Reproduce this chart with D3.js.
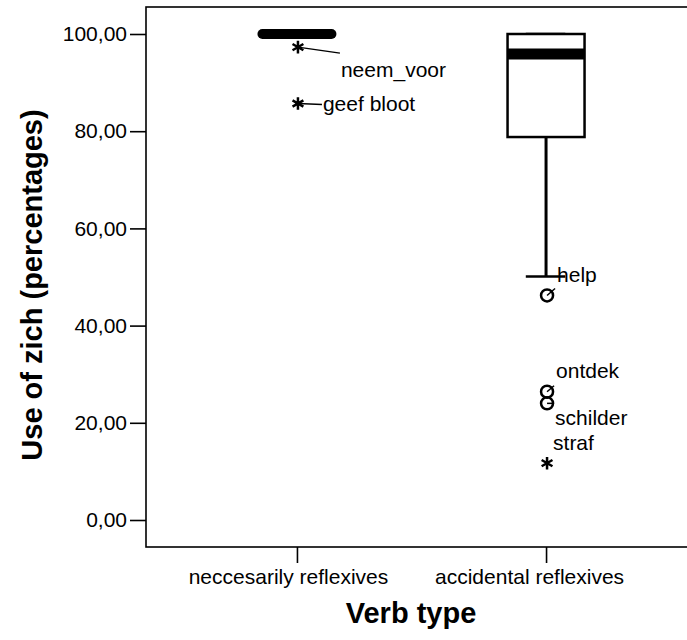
<!DOCTYPE html>
<html>
<head>
<meta charset="utf-8">
<script src="https://cdn.jsdelivr.net/npm/d3@7"></script>
<style>
  body { margin: 0; background: #fff; }
  text { font-family: "Liberation Sans", Arial, sans-serif; fill: #000; }
</style>
</head>
<body>
<script>
// data
var categories = ["neccesarily reflexives", "accidental reflexives"];
var whiskerLow  = [100, 50.1];
var q1          = [100, 78.8];
var median      = [100, 95.9];
var q3          = [100, 100];
var whiskerHigh = [100, 100];

var outNames  = ["neem_voor", "geef bloot", "help", "ontdek", "schilder", "straf"];
var outGroup  = [0, 0, 1, 1, 1, 1];
var outValues = [97.3, 85.7, 46.2, 26.4, 24.0, 11.7];
var outKind   = ["star", "star", "circle", "circle", "circle", "star"];

var yTicks = [0, 20, 40, 60, 80, 100];

var W = 687, H = 640;
var frame = {left: 146, top: 7, bottom: 547};
var small = "21px", big = "29px";

var svg = d3.select("body").append("svg")
    .attr("width", W)
    .attr("height", H);

var y = d3.scaleLinear().domain([0, 100]).range([520, 34]);
var x = d3.scalePoint().domain(categories).range([146, 697]).padding(0.606);

// frame (right side runs off the picture)
svg.append("rect")
    .attr("x", frame.left)
    .attr("y", frame.top)
    .attr("width", 700)
    .attr("height", frame.bottom - frame.top)
    .attr("fill", "none")
    .attr("stroke", "#000")
    .attr("stroke-width", 1.6);

// y axis
var yAxis = d3.axisLeft(y).tickValues(yTicks).tickSize(16).tickPadding(3)
    .tickFormat(function(d) { return d3.format(".2f")(d).replace(".", ","); });
var gy = svg.append("g")
    .attr("transform", "translate(" + frame.left + ",0)")
    .call(yAxis);
gy.select(".domain").remove();
gy.selectAll(".tick line").attr("stroke-width", 1.6);
gy.selectAll(".tick text").style("font-size", small).style("font-family", "Liberation Sans, Arial, sans-serif");

// x axis
var xAxis = d3.axisBottom(x).tickSize(16).tickPadding(6);
var gx = svg.append("g")
    .attr("transform", "translate(0," + frame.bottom + ")")
    .call(xAxis);
gx.select(".domain").remove();
gx.selectAll(".tick line").attr("stroke-width", 1.6);
gx.selectAll(".tick text")
    .style("font-size", small)
    .style("font-family", "Liberation Sans, Arial, sans-serif")
    .attr("x", function(d, i) { return i === 0 ? -9 : -17; });

// axis titles
svg.append("text")
    .attr("transform", "translate(42,285) rotate(-90)")
    .attr("text-anchor", "middle")
    .style("font-size", big)
    .style("font-weight", "bold")
    .text("Use of zich (percentages)");

svg.append("text")
    .attr("x", 411)
    .attr("y", 623)
    .attr("text-anchor", "middle")
    .style("font-size", big)
    .style("font-weight", "bold")
    .text("Verb type");

// boxes
var boxW = 77;
categories.forEach(function(c, i) {
    var cx = x(c);
    var flat = q1[i] === q3[i];
    var g = svg.append("g");
    // whiskers
    g.append("line")
        .attr("x1", cx).attr("x2", cx)
        .attr("y1", y(q1[i])).attr("y2", y(whiskerLow[i]))
        .attr("stroke", "#000").attr("stroke-width", 3);
    g.append("line")
        .attr("x1", cx).attr("x2", cx)
        .attr("y1", y(q3[i])).attr("y2", y(whiskerHigh[i]))
        .attr("stroke", "#000").attr("stroke-width", 3);
    // caps
    [whiskerLow[i], whiskerHigh[i]].forEach(function(v) {
        g.append("line")
            .attr("x1", cx - boxW / 4 - 1).attr("x2", cx + boxW / 4)
            .attr("y1", y(v)).attr("y2", y(v))
            .attr("stroke", "#000").attr("stroke-width", 2.5);
    });
    // box
    g.append("rect")
        .attr("x", cx - boxW / 2)
        .attr("y", y(q3[i]))
        .attr("width", boxW)
        .attr("height", y(q1[i]) - y(q3[i]))
        .attr("fill", "#fff")
        .attr("stroke", "#000")
        .attr("stroke-width", 2.5);
    // median
    g.append("line")
        .attr("x1", cx - boxW / 2 + (flat ? 4 : 0))
        .attr("x2", cx + boxW / 2 - (flat ? 4 : 0))
        .attr("y1", y(median[i])).attr("y2", y(median[i]))
        .attr("stroke", "#000")
        .attr("stroke-width", flat ? 10 : 11)
        .attr("stroke-linecap", flat ? "round" : "butt");
});

// outliers with labels and leader lines
var star = d3.symbol().type(d3.symbolAsterisk).size(110);
var labelOffsets = [
    {dx: 43, dy: 30, lx: 42, ly: 6},    // neem_voor
    {dx: 25, dy: 8, lx: 24, ly: 1},     // geef bloot
    {dx: 10, dy: -13, lx: 8, ly: -7},   // help
    {dx: 9, dy: -14, lx: 7, ly: -6},    // ontdek
    {dx: 8, dy: 22, lx: 7, ly: 0},      // schilder
    {dx: 6, dy: -13, lx: 0, ly: 0}      // straf
];
outNames.forEach(function(n, i) {
    var px = x(categories[outGroup[i]]) + 1;
    var py = y(outValues[i]);
    var o = labelOffsets[i];
    if (o.lx || o.ly) {
        svg.append("line")
            .attr("x1", px).attr("y1", py)
            .attr("x2", px + o.lx).attr("y2", py + o.ly)
            .attr("stroke", "#000").attr("stroke-width", 1.5);
    }
    if (outKind[i] === "circle") {
        svg.append("circle")
            .attr("cx", px).attr("cy", py).attr("r", 6)
            .attr("fill", "none").attr("stroke", "#000").attr("stroke-width", 2.5);
    } else {
        svg.append("path")
            .attr("d", star)
            .attr("transform", "translate(" + px + "," + py + ")")
            .attr("fill", "none").attr("stroke", "#000").attr("stroke-width", 2.5);
    }
    svg.append("text")
        .attr("x", px + o.dx)
        .attr("y", py + o.dy)
        .style("font-size", small)
        .text(n);
});
</script>
</body>
</html>
